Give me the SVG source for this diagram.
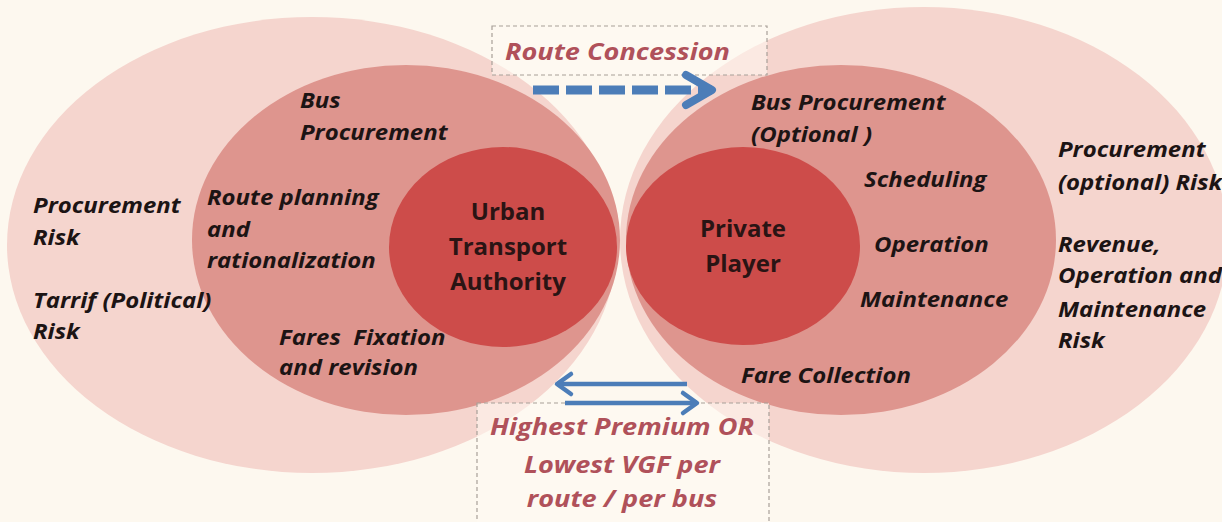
<svg xmlns="http://www.w3.org/2000/svg" width="1222" height="522" viewBox="0 0 1222 522">
  <style>
    .outer { fill: #f5d5ce; }
    .middle { fill: #de958e; }
    .inner { fill: #cd4c4a; }
    .lbl { font-family: "Open Sans", Lato, sans-serif; font-weight: bold; font-style: italic; font-size: 22px; fill: #1c1414; }
    .core { font-family: "Open Sans", Lato, sans-serif; font-weight: bold; font-size: 24px; fill: #2a1414; text-anchor: middle; }
    .note { font-family: "Open Sans", Lato, sans-serif; font-weight: bold; font-style: italic; font-size: 24px; fill: #b0515a; }
    .box { fill: #fffaf2; fill-opacity: 0.55; stroke: #a8a098; stroke-width: 1.2; stroke-dasharray: 4 3; }
    .flow { fill: none; stroke: #4c7db8; }
  </style>
  <defs>
    <marker id="chevBig" viewBox="0 0 40 40" refX="34" refY="20" markerWidth="40" markerHeight="40" markerUnits="userSpaceOnUse" orient="auto">
      <path d="M8,5 L34,20 L8,35" fill="none" stroke="#4c7db8" stroke-width="8" stroke-linecap="round" stroke-linejoin="round"/>
    </marker>
    <marker id="chevSmall" viewBox="0 0 30 30" refX="26" refY="15" markerWidth="30" markerHeight="30" markerUnits="userSpaceOnUse" orient="auto">
      <path d="M12,5 L26,15 L12,25" fill="none" stroke="#4c7db8" stroke-width="4.5" stroke-linecap="round" stroke-linejoin="round"/>
    </marker>
  </defs>

  <rect width="1222" height="522" fill="#fdf8ef"/>

  <!-- outer risk zones -->
  <g id="authority-risks">
    <ellipse class="outer" cx="312" cy="245" rx="305" ry="228"/>
  </g>
  <g id="operator-risks">
    <ellipse class="outer" cx="924" cy="240" rx="304" ry="233"/>
  </g>

  <!-- middle responsibility zones -->
  <g id="authority-roles">
    <ellipse class="middle" cx="406" cy="240" rx="214" ry="175"/>
  </g>
  <g id="operator-roles">
    <ellipse class="middle" cx="841" cy="240" rx="215" ry="175"/>
  </g>

  <!-- core parties -->
  <g id="urban-transport-authority">
    <ellipse class="inner" cx="503" cy="247" rx="114" ry="100"/>
    <text class="core" x="508" y="220">Urban</text>
    <text class="core" x="508" y="255">Transport</text>
    <text class="core" x="508" y="290">Authority</text>
  </g>
  <g id="private-player">
    <ellipse class="inner" cx="743" cy="246" rx="117" ry="99"/>
    <text class="core" x="743" y="237">Private</text>
    <text class="core" x="743" y="272">Player</text>
  </g>

  <!-- labels of the authority side (set in a slightly widened face: x values are divided by 1.09) -->
  <g id="authority-labels" transform="scale(1.09 1)">
    <text class="lbl" x="30.3" y="213">Procurement</text>
    <text class="lbl" x="30.3" y="245">Risk</text>
    <text class="lbl" x="30.3" y="308">Tarrif (Political)</text>
    <text class="lbl" x="30.3" y="339">Risk</text>
    <text class="lbl" x="275.2" y="108">Bus</text>
    <text class="lbl" x="275.2" y="140">Procurement</text>
    <text class="lbl" x="189.9" y="205">Route planning</text>
    <text class="lbl" x="189.9" y="237">and</text>
    <text class="lbl" x="189.9" y="268">rationalization</text>
    <text class="lbl" x="256" y="345" xml:space="preserve">Fares  Fixation</text>
    <text class="lbl" x="256" y="375">and revision</text>
  </g>

  <!-- labels of the operator side -->
  <g id="operator-labels" transform="scale(1.09 1)">
    <text class="lbl" x="689" y="110">Bus Procurement</text>
    <text class="lbl" x="689" y="142">(Optional )</text>
    <text class="lbl" x="792.7" y="187">Scheduling</text>
    <text class="lbl" x="801.8" y="252">Operation</text>
    <text class="lbl" x="789" y="307">Maintenance</text>
    <text class="lbl" x="679.8" y="383">Fare Collection</text>
    <text class="lbl" x="970.6" y="157">Procurement</text>
    <text class="lbl" x="970.6" y="190">(optional) Risk</text>
    <text class="lbl" x="970.6" y="252">Revenue,</text>
    <text class="lbl" x="970.6" y="283">Operation and</text>
    <text class="lbl" x="970.6" y="317">Maintenance</text>
    <text class="lbl" x="970.6" y="348">Risk</text>
  </g>

  <!-- contract terms -->
  <g id="route-concession">
    <rect class="box" x="492" y="26" width="275" height="49"/>
    <text class="note" x="446.9" y="60" transform="scale(1.13 1)">Route Concession</text>
  </g>
  <g id="bid-criteria">
    <rect class="box" x="477" y="403" width="292" height="130"/>
    <g transform="scale(1.13 1)">
      <text class="note" x="550.4" y="435" text-anchor="middle">Highest Premium OR</text>
      <text class="note" x="550.4" y="473" text-anchor="middle">Lowest VGF per</text>
      <text class="note" x="550.4" y="507" text-anchor="middle">route / per bus</text>
    </g>
  </g>

  <!-- connectors -->
  <g id="connectors">
    <path class="flow" d="M533,90 L712,90" stroke-width="9" stroke-dasharray="26 7" marker-end="url(#chevBig)"/>
    <path class="flow" d="M687,384 L557,384" stroke-width="4.5" marker-end="url(#chevSmall)"/>
    <path class="flow" d="M565,403 L697,403" stroke-width="4.5" marker-end="url(#chevSmall)"/>
  </g>
</svg>
